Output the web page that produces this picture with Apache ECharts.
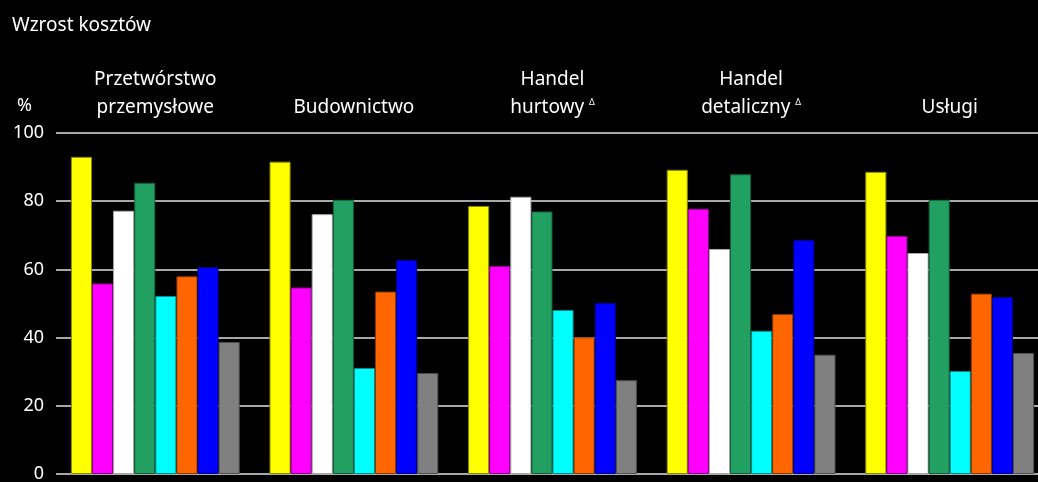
<!DOCTYPE html>
<html><head><meta charset="utf-8">
<script src="https://cdn.jsdelivr.net/npm/echarts@6/dist/echarts.min.js"></script>
<style>html,body{margin:0;padding:0;background:#000;}#c{width:1038px;height:482px;}</style>
</head><body><div id="c"></div>
<script>
const categories = ['Przetwórstwo\nprzemysłowe', 'Budownictwo', 'Handel\nhurtowy {sup|Δ}', 'Handel\ndetaliczny {sup|Δ}', 'Usługi'];
const s1 = [93.0, 91.6, 78.6, 89.2, 88.6];
const s2 = [55.9, 54.7, 61.0, 77.8, 69.8];
const s3 = [77.2, 76.2, 81.3, 66.0, 64.8];
const s4 = [85.4, 80.4, 77.0, 87.9, 80.4];
const s5 = [52.2, 31.1, 48.1, 42.0, 30.2];
const s6 = [58.0, 53.5, 40.1, 46.9, 52.9];
const s7 = [60.7, 62.8, 50.2, 68.6, 51.9];
const s8 = [38.7, 29.6, 27.5, 35.0, 35.5];
const yTicks = [0, 20, 40, 60, 80, 100];
const seriesData = [s1, s2, s3, s4, s5, s6, s7, s8];
const colors = ['#ffff00', '#ff00ff', '#ffffff', '#22a062', '#00ffff', '#ff6600', '#0000ff', '#808080'];
const borders = ['#8a8a00', '#8a008a', '#aaaaaa', '#145c38', '#008a8a', '#8a3700', '#00008a', '#505050'];
const FONT = 'Noto Sans';
const chart = echarts.init(document.getElementById('c'));
chart.setOption({
  backgroundColor: '#000',
  animation: false,
  textStyle: { fontFamily: FONT },
  title: { text: 'Wzrost kosztów', left: 7, top: 11, textStyle: { color: '#fff', fontSize: 19, fontWeight: 'normal', fontFamily: FONT } },
  grid: { left: 56, width: 993, top: 133, bottom: 8, outerBoundsMode: 'none', containLabel: false },
  xAxis: {
    type: 'category', position: 'top', data: categories,
    axisLine: { show: false }, axisTick: { show: false },
    axisLabel: { interval: 0, color: '#fff', fontSize: 19, lineHeight: 28, margin: 11, fontFamily: FONT,
      rich: { sup: { fontSize: 9, color: '#fff', padding: [0, 0, 12, 0], fontFamily: FONT } } }
  },
  yAxis: {
    type: 'value', min: 0, max: 100, interval: 20,
    name: '%', nameLocation: 'end', nameGap: 18,
    nameTextStyle: { color: '#fff', fontSize: 18, align: 'right', padding: [0, 24, 0, 0], fontFamily: FONT },
    axisLine: { show: false }, axisTick: { show: false },
    axisLabel: { color: '#fff', fontSize: 18, margin: 12, fontFamily: FONT, formatter: v => yTicks.includes(v) ? String(v) : '' },
    splitLine: { lineStyle: { color: '#a8a8a8', width: 2 } }
  },
  series: seriesData.map((d, i) => ({
    type: 'bar', data: d, barGap: '0%', barCategoryGap: '15%',
    itemStyle: { color: colors[i], borderColor: borders[i], borderWidth: 1 }
  }))
});
</script></body></html>
